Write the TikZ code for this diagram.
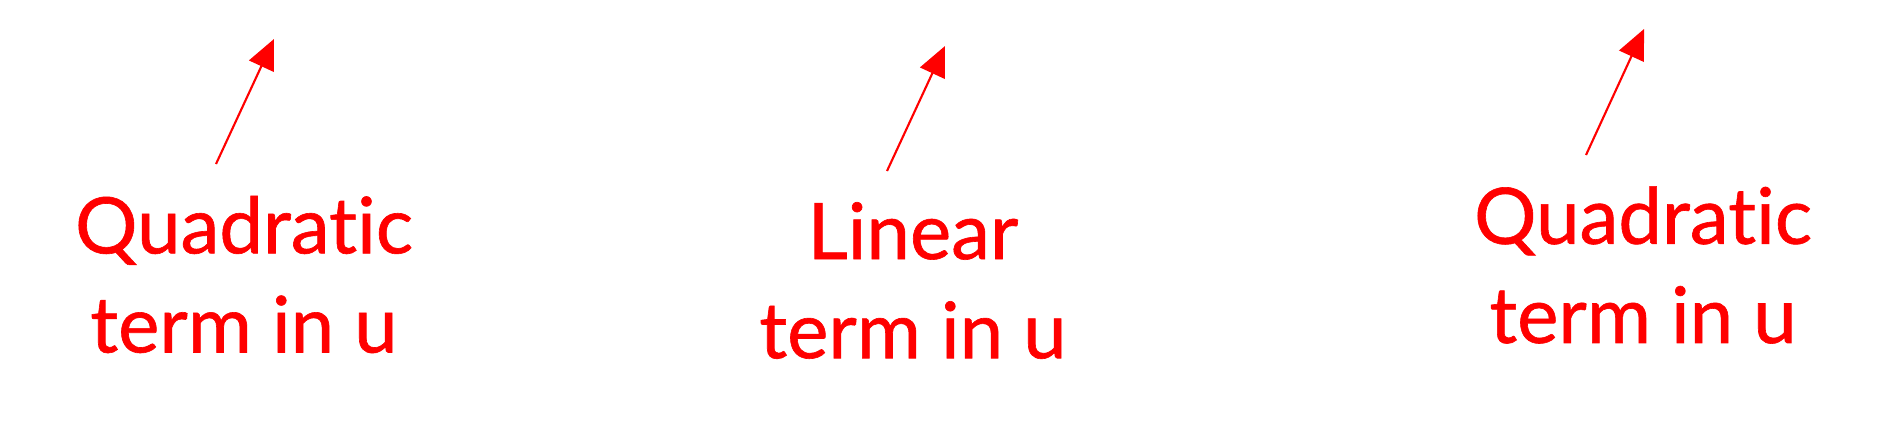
\documentclass[tikz,border=0pt]{standalone}
\usepackage{fontspec}
\setmainfont[Ligatures={NoCommon}, FakeBold=0.8]{Lato}
\usetikzlibrary{arrows.meta, positioning}
\definecolor{termred}{RGB}{255,0,0}

\begin{document}
\begin{tikzpicture}[
    termlabel/.style={align=center, inner sep=0pt, text=termred, font=\fontsize{22.2}{28.2}\selectfont},
    arrow/.style={-{Triangle[length=3mm, width=2.7mm]}, line width=0.6pt, termred}
]
\useasboundingbox (0,0) rectangle (18.88,4.35);

% Labels
\node[termlabel] (quadleft) at (2.44,1.605) {Quadratic\\term in u};
\node[termlabel] (linear) at (9.13,1.545) {Linear\\term in u};
\node[termlabel] (quadright) at (16.43,1.70) {Quadratic\\term in u};

% Arrow ends
\coordinate (tailleft) at (2.16,2.71);
\coordinate (tipleft) at (2.74,3.96);
\coordinate (tailmid) at (8.87,2.64);
\coordinate (tipmid) at (9.45,3.89);
\coordinate (tailright) at (15.86,2.80);
\coordinate (tipright) at (16.44,4.06);

% Arrows
\draw[arrow] (tailleft) -- (tipleft);
\draw[arrow] (tailmid) -- (tipmid);
\draw[arrow] (tailright) -- (tipright);

\end{tikzpicture}
\end{document}
